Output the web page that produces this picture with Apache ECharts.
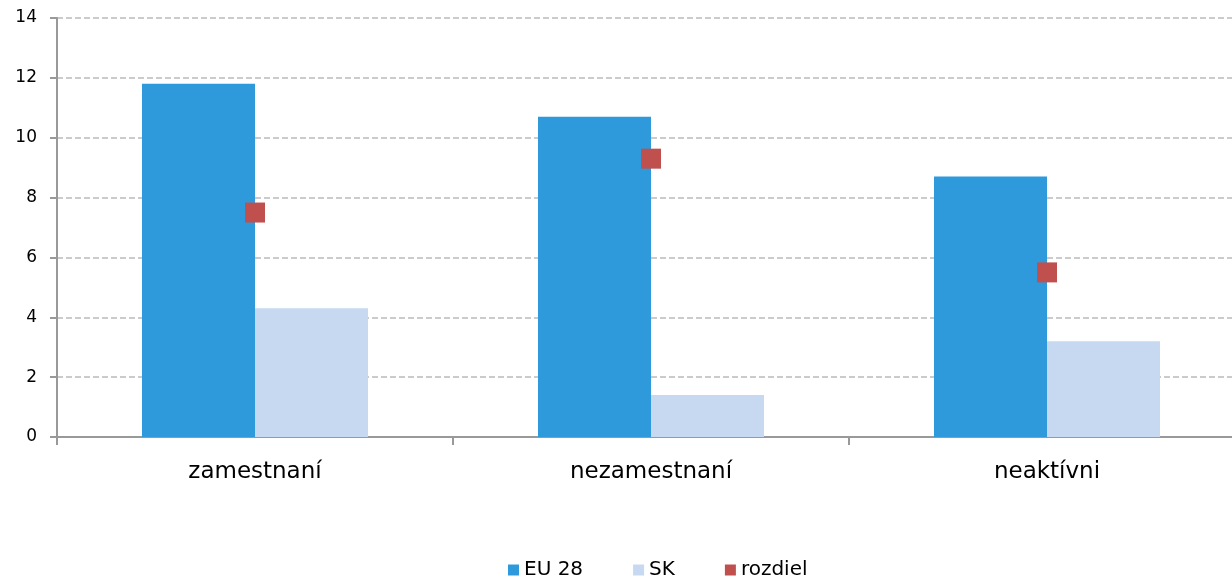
<!DOCTYPE html>
<html>
<head>
<meta charset="utf-8">
<script src="https://cdn.jsdelivr.net/npm/echarts@6/dist/echarts.min.js"></script>
<style>
  html, body { margin: 0; padding: 0; background: #fff; overflow: hidden; }
  #chart { width: 1250px; height: 580px; }
</style>
</head>
<body>
<div id="chart"></div>
<script>
var categories = ['zamestnaní', 'nezamestnaní', 'neaktívni'];
var eu28 = [11.8, 10.7, 8.7];
var sk = [4.3, 1.4, 3.2];
var rozdiel = [7.5, 9.3, 5.5];

var chart = echarts.init(document.getElementById('chart'));
chart.setOption({
  animation: false,
  textStyle: { fontFamily: 'DejaVu Sans, sans-serif' },
  legend: {
    top: 555,
    left: 503,
    itemWidth: 11,
    itemHeight: 11,
    itemGap: 50,
    textStyle: { fontSize: 20, color: '#000' },
    data: [
      { name: 'EU 28', icon: 'rect' },
      { name: 'SK', icon: 'rect' },
      { name: 'rozdiel', icon: 'rect' }
    ]
  },
  grid: {
    left: 57,
    top: 18,
    width: 1188,
    height: 419,
    containLabel: false
  },
  xAxis: {
    type: 'category',
    data: categories,
    axisLine: { lineStyle: { color: '#999', width: 2 } },
    axisTick: { show: true, length: 8, lineStyle: { color: '#999', width: 2 } },
    axisLabel: { fontSize: 23, color: '#000', margin: 24 }
  },
  yAxis: {
    type: 'value',
    min: 0,
    max: 14,
    interval: 2,
    axisLine: { show: true, lineStyle: { color: '#999', width: 2 } },
    axisTick: { show: true, length: 7, lineStyle: { color: '#999', width: 2 } },
    axisLabel: { fontSize: 17, color: '#000', margin: 20 },
    splitLine: { lineStyle: { color: '#bbb', type: [6, 3], width: 1.5 } }
  },
  series: [
    {
      name: 'EU 28',
      type: 'bar',
      data: eu28,
      barWidth: 113,
      barGap: '0%',
      itemStyle: { color: '#2E9ADC' }
    },
    {
      name: 'SK',
      type: 'bar',
      data: sk,
      barWidth: 113,
      itemStyle: { color: '#C6D9F1' }
    },
    {
      name: 'rozdiel',
      type: 'scatter',
      data: rozdiel,
      symbol: 'rect',
      symbolSize: 20,
      itemStyle: { color: '#C0504D', opacity: 1 },
      z: 5
    }
  ]
});
</script>
</body>
</html>
